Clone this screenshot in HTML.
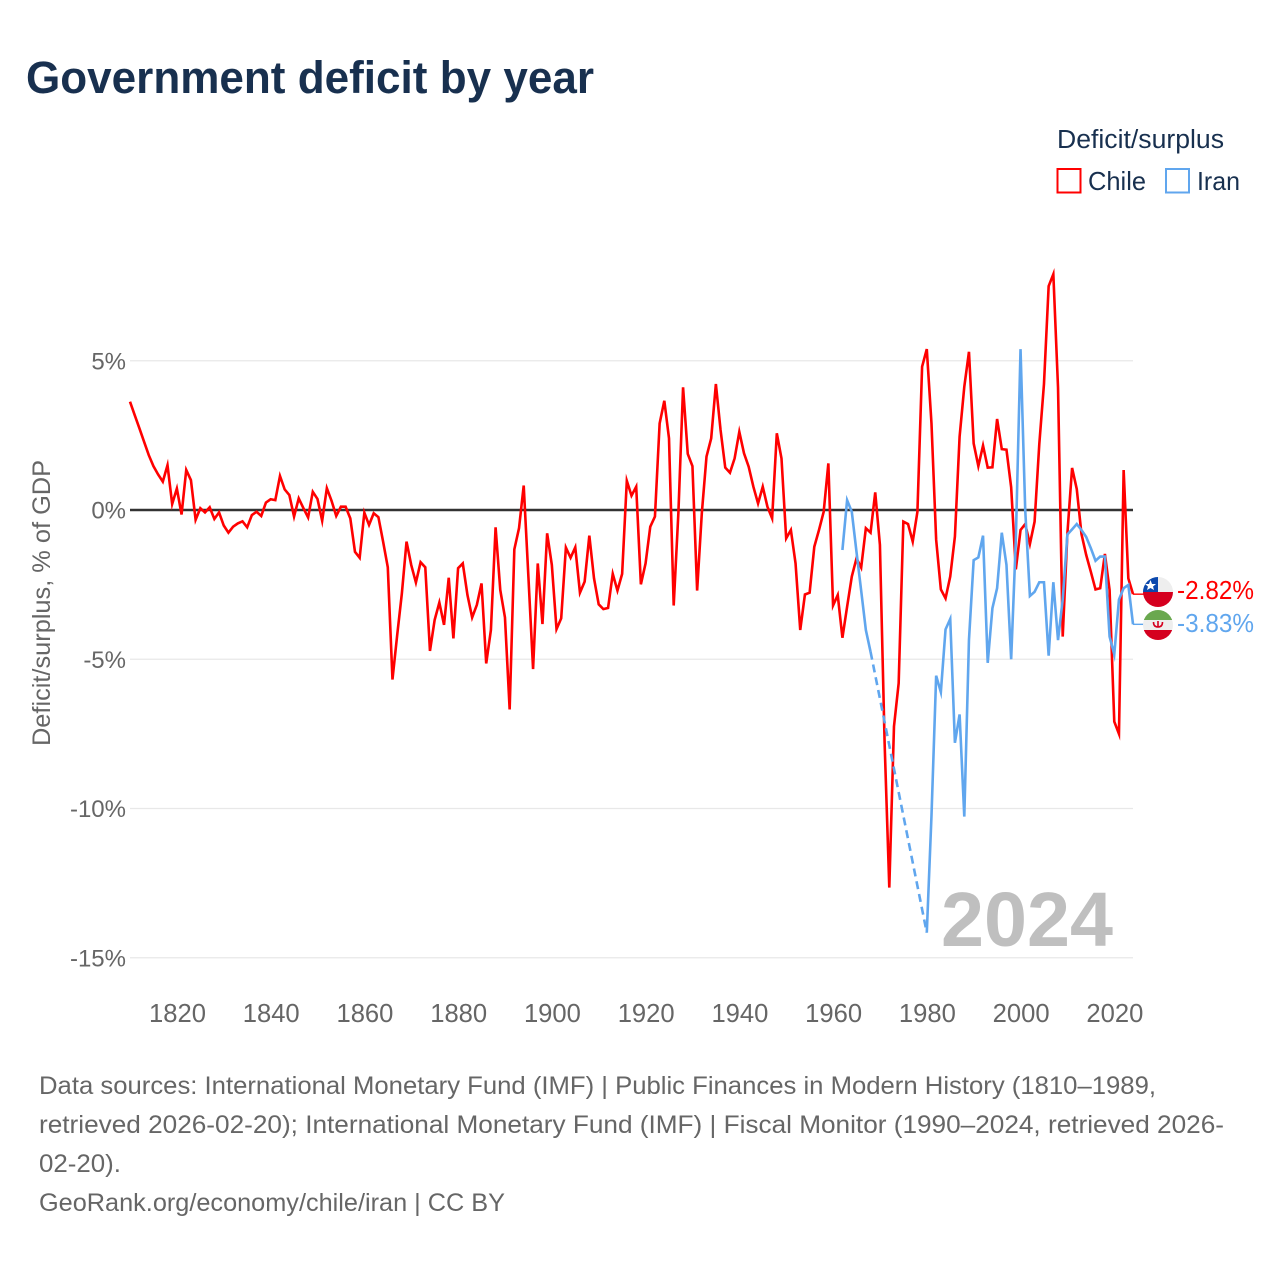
<!DOCTYPE html>
<html lang="en">
<head>
<meta charset="utf-8">
<title>Government deficit by year</title>
<style>
html,body{margin:0;padding:0;background:#fff;}
svg{display:block;font-family:"Liberation Sans",sans-serif;}
</style>
</head>
<body>
<svg id="chart" xmlns="http://www.w3.org/2000/svg" width="1280" height="1280" viewBox="0 0 1280 1280">
  <rect x="0" y="0" width="1280" height="1280" fill="#ffffff"/>
  <text x="26" y="93" font-size="45" font-weight="700" fill="#18304f" textLength="568" lengthAdjust="spacingAndGlyphs">Government deficit by year</text>

  <g>
    <text x="1057" y="148" font-size="25.5" fill="#18304f" textLength="167" lengthAdjust="spacingAndGlyphs">Deficit/surplus</text>
    <g>
      <rect x="1057.5" y="169" width="23" height="23.5" fill="none" stroke="#ff0000" stroke-width="2"/>
      <text x="1088" y="190" font-size="26" fill="#18304f" textLength="58" lengthAdjust="spacingAndGlyphs">Chile</text>
    </g>
    <g>
      <rect x="1166" y="169" width="23" height="23.5" fill="none" stroke="#60a6ee" stroke-width="2"/>
      <text x="1197" y="190" font-size="26" fill="#18304f" textLength="43" lengthAdjust="spacingAndGlyphs">Iran</text>
    </g>
  </g>

  <text transform="translate(50,603) rotate(-90)" text-anchor="middle" font-size="25" fill="#666666" textLength="286" lengthAdjust="spacingAndGlyphs">Deficit/surplus, % of GDP</text>

  <g id="grid"></g>
  <g id="y-ticks"></g>
  <g id="x-ticks"></g>

  <text x="941" y="946" font-size="77" font-weight="700" fill="#bfbfbf" textLength="172" lengthAdjust="spacingAndGlyphs">2024</text>

  <g id="series"></g>
  <line id="zero-line" stroke="#333333" stroke-width="2.5"/>
  <g id="series-top"></g>

  <defs>
    <clipPath id="clip-chile"><circle cx="1158" cy="592" r="15"/></clipPath>
    <clipPath id="clip-iran"><circle cx="1158" cy="625" r="15"/></clipPath>
  </defs>
  <g clip-path="url(#clip-chile)">
    <rect x="1143" y="577" width="30" height="15" fill="#eeeeee"/>
    <rect x="1143" y="577" width="15" height="15" fill="#0b48ad"/>
    <rect x="1143" y="592" width="30" height="15" fill="#d5001f"/>
    <polygon points="1150.5,580 1152,584 1156,584 1153,586.5 1154,590 1150.5,588 1147,590 1148,586.5 1145,584 1149,584" fill="#ffffff"/>
  </g>
  <g clip-path="url(#clip-iran)">
    <rect x="1143" y="610" width="30" height="30" fill="#eeeeee"/>
    <rect x="1143" y="610" width="30" height="10" fill="#6aa84f"/>
    <rect x="1143" y="630" width="30" height="10" fill="#d5001f"/>
    <path d="M1153.5 622 q0 5 4.5 5 q4.5 0 4.5 -5 M1158 621 v6" fill="none" stroke="#d5001f" stroke-width="1.6"/>
  </g>
  <text id="label-chile" x="1177" y="599" font-size="25.5" fill="#ff0000" textLength="77" lengthAdjust="spacingAndGlyphs"></text>
  <text id="label-iran" x="1177" y="632" font-size="25.5" fill="#60a6ee" textLength="77" lengthAdjust="spacingAndGlyphs"></text>

  <g font-size="25" fill="#666666">
    <text x="39" y="1094" textLength="1117" lengthAdjust="spacingAndGlyphs">Data sources: International Monetary Fund (IMF) | Public Finances in Modern History (1810–1989,</text>
    <text x="39" y="1133" textLength="1185" lengthAdjust="spacingAndGlyphs">retrieved 2026-02-20); International Monetary Fund (IMF) | Fiscal Monitor (1990–2024, retrieved 2026-</text>
    <text x="39" y="1172" textLength="82" lengthAdjust="spacingAndGlyphs">02-20).</text>
    <text x="39" y="1211" textLength="466" lengthAdjust="spacingAndGlyphs">GeoRank.org/economy/chile/iran | CC BY</text>
  </g>
</svg>

<script>
const yTicks = [5, 0, -5, -10, -15];
const xTicks = [1820, 1840, 1860, 1880, 1900, 1920, 1940, 1960, 1980, 2000, 2020];
const chileYears = [
1810,1811,1812,1813,1814,1815,1816,1817,1818,1819,
1820,1821,1822,1823,1824,1825,1826,1827,1828,1829,
1830,1831,1832,1833,1834,1835,1836,1837,1838,1839,
1840,1841,1842,1843,1844,1845,1846,1847,1848,1849,
1850,1851,1852,1853,1854,1855,1856,1857,1858,1859,
1860,1861,1862,1863,1864,1865,1866,1867,1868,1869,
1870,1871,1872,1873,1874,1875,1876,1877,1878,1879,
1880,1881,1882,1883,1884,1885,1886,1887,1888,1889,
1890,1891,1892,1893,1894,1895,1896,1897,1898,1899,
1900,1901,1902,1903,1904,1905,1906,1907,1908,1909,
1910,1911,1912,1913,1914,1915,1916,1917,1918,1919,
1920,1921,1922,1923,1924,1925,1926,1927,1928,1929,
1930,1931,1932,1933,1934,1935,1936,1937,1938,1939,
1940,1941,1942,1943,1944,1945,1946,1947,1948,1949,
1950,1951,1952,1953,1954,1955,1956,1957,1958,1959,
1960,1961,1962,1963,1964,1965,1966,1967,1968,1969,
1970,1971,1972,1973,1974,1975,1976,1977,1978,1979,
1980,1981,1982,1983,1984,1985,1986,1987,1988,1989,
1990,1991,1992,1993,1994,1995,1996,1997,1998,1999,
2000,2001,2002,2003,2004,2005,2006,2007,2008,2009,
2010,2011,2012,2013,2014,2015,2016,2017,2018,2019,
2020,2021,2022,2023,2024];
const chileValues = [
3.63,3.18,2.74,2.29,1.84,1.47,1.19,0.95,1.5,0.2,
0.72,-0.15,1.34,1.0,-0.33,0.06,-0.08,0.09,-0.3,-0.08,
-0.52,-0.76,-0.56,-0.45,-0.38,-0.58,-0.17,-0.06,-0.2,0.25,
0.36,0.33,1.14,0.69,0.5,-0.22,0.39,0.06,-0.25,0.61,
0.37,-0.36,0.73,0.31,-0.2,0.11,0.11,-0.28,-1.4,-1.6,
-0.09,-0.5,-0.11,-0.24,-1.06,-1.92,-5.68,-4.2,-2.8,-1.06,
-1.84,-2.43,-1.75,-1.92,-4.72,-3.68,-3.1,-3.85,-2.27,-4.3,
-1.95,-1.79,-2.85,-3.6,-3.18,-2.46,-5.14,-4.02,-0.58,-2.68,
-3.6,-6.68,-1.32,-0.61,0.82,-2.23,-5.33,-1.79,-3.82,-0.78,
-1.84,-3.99,-3.63,-1.26,-1.6,-1.25,-2.77,-2.4,-0.86,-2.29,
-3.16,-3.32,-3.28,-2.14,-2.7,-2.14,0.98,0.48,0.78,-2.49,
-1.79,-0.56,-0.22,2.9,3.66,2.4,-3.2,-0.1,4.11,1.88,
1.47,-2.7,-0.11,1.79,2.4,4.22,2.68,1.42,1.25,1.73,
2.62,1.9,1.45,0.78,0.22,0.78,0.11,-0.28,2.57,1.73,
-0.95,-0.67,-1.79,-4.02,-2.83,-2.77,-1.23,-0.67,-0.06,1.56,
-3.2,-2.85,-4.28,-3.24,-2.23,-1.62,-1.93,-0.61,-0.76,0.59,
-1.17,-7.8,-12.65,-7.25,-5.8,-0.39,-0.47,-1.06,-0.06,4.8,
5.39,2.9,-1.0,-2.66,-2.96,-2.23,-0.89,2.46,4.13,5.3,
2.23,1.47,2.16,1.42,1.43,3.05,2.04,2.02,0.76,-1.99,
-0.67,-0.47,-1.14,-0.39,2.2,4.22,7.5,7.9,4.1,-4.24,
-0.78,1.41,0.7,-0.8,-1.5,-2.07,-2.66,-2.62,-1.47,-2.68,
-7.09,-7.5,1.34,-2.29,-2.82];
const iranYears = [
1962,1963,1964,1965,1966,1967,1968,
1980,1981,1982,1983,1984,1985,1986,1987,1988,1989,
1990,1991,1992,1993,1994,1995,1996,1997,1998,1999,
2000,2001,2002,2003,2004,2005,2006,2007,2008,2009,
2010,2011,2012,2013,2014,2015,2016,2017,2018,2019,
2020,2021,2022,2023,2024];
const iranValues = [
-1.34,0.33,-0.06,-1.4,-2.7,-4.02,-4.75,
-14.16,-10.25,-5.55,-6.1,-4.0,-3.65,-7.8,-6.85,-10.27,-4.35,
-1.68,-1.59,-0.86,-5.12,-3.29,-2.62,-0.76,-1.84,-5.0,-1.0,
5.39,0.0,-2.88,-2.74,-2.42,-2.42,-4.88,-2.42,-4.36,-3.0,
-0.82,-0.65,-0.47,-0.67,-0.9,-1.28,-1.7,-1.56,-1.56,-4.24,
-4.84,-3.0,-2.62,-2.51,-3.83];

const NS = 'http://www.w3.org/2000/svg';
const CHILE_COLOR = '#ff0000';
const IRAN_COLOR = '#60a6ee';
const PLOT_LEFT = 130;
const PLOT_RIGHT = 1133;
function xScale(year) { return PLOT_LEFT + (year - 1810) * 4.687; }
function yScale(value) { return 510 - value * 29.85; }
function make(tag, attrs, parent) {
  const el = document.createElementNS(NS, tag);
  Object.keys(attrs).forEach(function (k) { el.setAttribute(k, attrs[k]); });
  parent.appendChild(el);
  return el;
}

const gridGroup = document.getElementById('grid');
const yTickGroup = document.getElementById('y-ticks');
yTicks.forEach(function (v) {
  if (v !== 0) {
    const gl = make('line', { x1: PLOT_LEFT, x2: PLOT_RIGHT, y1: yScale(v), y2: yScale(v), stroke: '#e8e8e8', 'stroke-width': 1.2 }, gridGroup);
    
    
  }
  const t = make('text', { x: 126, y: yScale(v) + 8.5, 'text-anchor': 'end', 'font-size': 24, fill: '#666666' }, yTickGroup);
  t.textContent = v + '%';
  
  
});

const xTickGroup = document.getElementById('x-ticks');
xTicks.forEach(function (yr) {
  const t = make('text', { x: xScale(yr) + 0.6, y: 1022, 'text-anchor': 'middle', 'font-size': 25.6, fill: '#666666' }, xTickGroup);
  t.textContent = yr;
  
  
});

const zero = document.getElementById('zero-line');
zero.setAttribute('x1', PLOT_LEFT);
zero.setAttribute('x2', PLOT_RIGHT);
zero.setAttribute('y1', yScale(0));
zero.setAttribute('y2', yScale(0));

function drawSeries(parent, years, values, color, name) {
  let run = [];
  function flush() {
    if (run.length > 1) {
      const solid = make('polyline', { points: run.join(' '), fill: 'none', stroke: color, 'stroke-width': 2.6, 'stroke-linejoin': 'miter', 'stroke-miterlimit': 6 }, parent);
      
      
    }
    run = [];
  }
  for (let i = 0; i < years.length; i++) {
    if (i > 0 && years[i] - years[i - 1] > 1) {
      flush();
      const gap = make('line', { x1: xScale(years[i - 1]), y1: yScale(values[i - 1]), x2: xScale(years[i]), y2: yScale(values[i]), stroke: color, 'stroke-width': 2.6, 'stroke-dasharray': '8 5' }, parent);
      
      
    }
    run.push(xScale(years[i]).toFixed(2) + ',' + yScale(values[i]).toFixed(2));
  }
  flush();
}
const seriesGroup = document.getElementById('series');
const seriesTop = document.getElementById('series-top');
drawSeries(seriesTop, chileYears, chileValues, CHILE_COLOR, 'chile');
drawSeries(seriesTop, iranYears, iranValues, IRAN_COLOR, 'iran');

function drawConnector(years, values, color, name) {
  const lastX = xScale(years[years.length - 1]);
  const lastY = yScale(values[values.length - 1]);
  const c = make('line', { x1: lastX, x2: 1144, y1: lastY, y2: lastY, stroke: color, 'stroke-width': 1.4 }, seriesTop);
  
  
}
drawConnector(chileYears, chileValues, CHILE_COLOR, 'chile');
drawConnector(iranYears, iranValues, IRAN_COLOR, 'iran');

document.getElementById('label-chile').textContent = chileValues[chileValues.length - 1].toFixed(2) + '%';
document.getElementById('label-iran').textContent = iranValues[iranValues.length - 1].toFixed(2) + '%';
</script>
</body>
</html>
